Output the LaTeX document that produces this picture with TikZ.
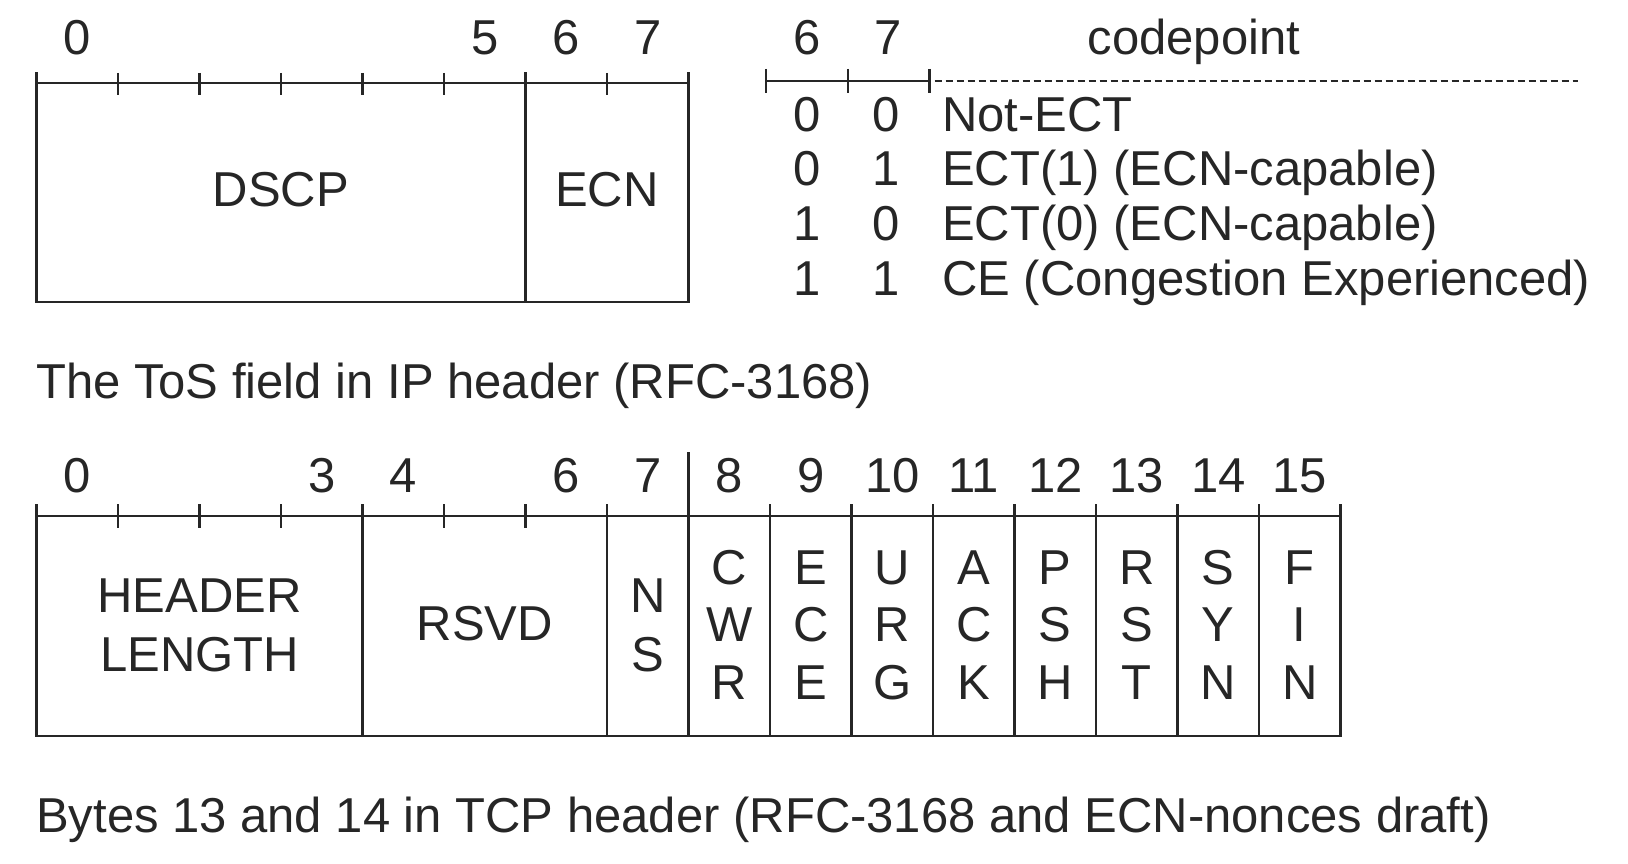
\documentclass[tikz,border=0pt]{standalone}
\usepackage{fontspec}
\setmainfont{Liberation Sans}
\begin{document}
\begin{tikzpicture}[x=1pt,y=-1pt,
  ln/.style={line width=2.2pt, draw=black!85},
  lbl/.style={font=\fontsize{49}{58}\selectfont, text=black!85, inner sep=0pt, anchor=base},
  lft/.style={lbl, anchor=base west}]
\useasboundingbox[fill=white] (0,0) rectangle (1628,864);
% ---------- top: ToS byte ----------
\draw[ln] (36.5,83) rectangle (688.5,302);
\draw[ln] (525.5,72.5) -- (525.5,302);
\draw[ln] (36.5,72.5) -- (36.5,83);
\draw[ln] (688.5,72.5) -- (688.5,83);
\foreach \i in {1,2,3,4,5,7} \draw[ln] ({36.5+\i*81.5},73) -- ({36.5+\i*81.5},95);
\node[lbl] (t0) at (77.25,55) {0};
\node[lbl] (t5) at (484.75,55) {5};
\node[lbl] (t6) at (566.25,55) {6};
\node[lbl] (t7) at (647.75,55) {7};
\node[lbl] (dscp) at (281,206.5) {DSCP};
\node[lbl] (ecn) at (607,206.5) {ECN};
% ---------- codepoint table ----------
\draw[ln] (766,81) -- (929.5,81);
\foreach \x in {766,848,929.5} \draw[ln] (\x,69) -- (\x,93);
\draw[line width=2pt, draw=black!85, dash pattern=on 7pt off 4pt] (934.5,81) -- (1578,81);
\node[lbl] (c6) at (807,55) {6};
\node[lbl] (c7) at (888,55) {7};
\node[lbl] (cp) at (1194,55) {codepoint};
\node[lbl] (r1a) at (807,131.5) {0};
\node[lbl] (r1b) at (886,131.5) {0};
\node[lft] (r1t) at (942,131.5) {Not-ECT};
\node[lbl] (r2a) at (807,185.5) {0};
\node[lbl] (r2b) at (886,185.5) {1};
\node[lft] (r2t) at (942,185.5) {ECT(1) (ECN-capable)};
\node[lbl] (r3a) at (807,240.5) {1};
\node[lbl] (r3b) at (886,240.5) {0};
\node[lft] (r3t) at (942,240.5) {ECT(0) (ECN-capable)};
\node[lbl] (r4a) at (807,295.5) {1};
\node[lbl] (r4b) at (886,295.5) {1};
\node[lft] (r4t) at (942,295.5) {CE (Congestion Experienced)};
\node[lft] (cap1) at (36,398) {The ToS field in IP header (RFC-3168)};
% ---------- bottom: TCP bytes 13 and 14 ----------
\draw[ln] (36.5,516) rectangle (1340.5,736);
\draw[ln] (36.5,504) -- (36.5,516);
\draw[ln] (1340.5,504) -- (1340.5,516);
\foreach \i in {1,2,3,5,6} \draw[ln] ({36.5+\i*81.5},504) -- ({36.5+\i*81.5},527.5);
\foreach \i in {4,7,9,10,11,12,13,14,15} \draw[ln] ({36.5+\i*81.5},504) -- ({36.5+\i*81.5},736);
\draw[ln] (688.5,452) -- (688.5,736);
\node[lbl] (b0) at (77.25,492) {0};
\node[lbl] (b3) at (321.75,492) {3};
\node[lbl] (b4) at (403.25,492) {4};
\node[lbl] (b6) at (566.25,492) {6};
\node[lbl] (b7) at (647.75,492) {7};
\foreach \i in {8,...,15} \node[lbl] (b\i) at ({36.5+(\i+0.5)*81.5},492) {\i};
\node[lbl] (hl1) at (199.5,612.5) {HEADER};
\node[lbl] (hl2) at (199.5,671.5) {LENGTH};
\node[lbl] (rsvd) at (484.75,640.5) {RSVD};
\node[lbl] (ns1) at (647.75,612.5) {N};
\node[lbl] (ns2) at (647.75,671.5) {S};
\foreach \i/\a/\b/\c in {8/C/W/R,9/E/C/E,10/U/R/G,11/A/C/K,12/P/S/H,13/R/S/T,14/S/Y/N,15/F/I/N}{
  \node[lbl] (f\i a) at ({36.5+(\i+0.5)*81.5},584.5) {\a};
  \node[lbl] (f\i b) at ({36.5+(\i+0.5)*81.5},641.5) {\b};
  \node[lbl] (f\i c) at ({36.5+(\i+0.5)*81.5},699.5) {\c};
}
\node[lft] (cap2) at (36,832) {Bytes 13 and 14 in TCP header (RFC-3168 and ECN-nonces draft)};
\end{tikzpicture}
\end{document}
